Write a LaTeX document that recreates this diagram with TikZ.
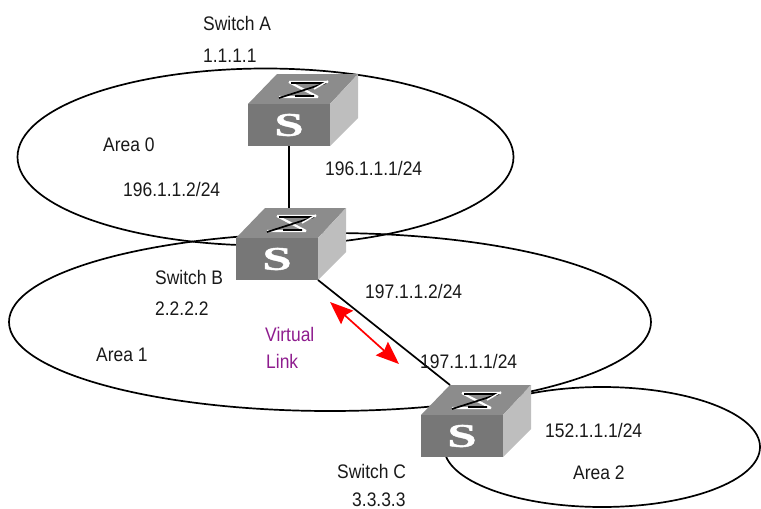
\documentclass[tikz,border=0pt]{standalone}
\usepackage{fontspec}
\setmainfont[FakeStretch=0.89]{Liberation Sans}
\newfontfamily\logofont[UprightFont=* Bold, FakeBold=1.2, FakeStretch=1.6]{Liberation Serif}
\usetikzlibrary{arrows.meta}
\definecolor{frontgray}{HTML}{777777}
\definecolor{topgray}{HTML}{8C8C8C}
\definecolor{sidegray}{HTML}{BEBEBE}
\definecolor{linkpurple}{HTML}{8E1C8E}
\tikzset{
	area/.style = { line width=1.7pt, color=black },
	link/.style = { line width=1.7pt, color=black },
	label/.style = { font=\fontsize{19.6}{19.6}\selectfont, color=black!90, anchor=west, inner sep=0pt, text height=14pt, text depth=0pt },
	virtual/.style = { label, color=linkpurple },
	arrow/.style = { line width=1.7pt, color=red, {Stealth[length=23pt,width=18pt,inset=3pt]}-{Stealth[length=23pt,width=18pt,inset=3pt]} },
	front/.style = { fill=frontgray, anchor=north west, minimum width=82pt, minimum height=42pt, inner sep=0pt, outer sep=0pt, text=white, font=\logofont\fontsize{33}{33}\selectfont },
	switchbox/.pic = {
		\fill[topgray] (0,0) -- (29,-30) -- (110,-30) -- (82,0) -- cycle;
		\fill[sidegray] (82,0) -- (110,-30) -- (110,14) -- (82,42) -- cycle;
		\draw[white, line width=2.2pt] (41,-22) -- (80,-22) (31,-7) -- (70,-7) (41,-22) -- (70,-7);
		\draw[black, line width=1.7pt] (43,-21) -- (78,-21) (78,-21) -- (31,-6) (47,-8) -- (66,-8);
		\draw[white, line width=1.5pt] (80,-23) -- (66,-15);
		\node[front] (-front) at (0,0) {S};
		\coordinate (-back) at (29,-30);
	},
}

\begin{document}
\begin{tikzpicture}[x=1pt, y=-1pt]
\useasboundingbox (0,0) rectangle (761,509);
\clip (0,0) rectangle (761,509);

\draw[area] (265.5,157) ellipse [x radius=248, y radius=88.5];
\draw[area] (330,322) ellipse [x radius=321, y radius=89];
\draw[area] (602,447) ellipse [x radius=158, y radius=60];

\pic (A) at (248,104) {switchbox};
\pic (B) at (236,238) {switchbox};
\pic (C) at (421,415) {switchbox};

\draw[link] (A-front.south) -- (A-front.south |- B-back);
\draw[link] (B-front.south east) -- (C-back);

\coordinate (tipb) at (330,302);
\coordinate (tipc) at (399,364);
\draw[arrow] (tipb) -- (tipc);

\node[label] (namea) at (203,23) {Switch A};
\node[label] (ida) at (203,55) {1.1.1.1};
\node[label] (area0) at (103,144) {Area 0};
\node[label] (ipb0) at (123,189) {196.1.1.2/24};
\node[label] (ipa) at (325,168) {196.1.1.1/24};
\node[label] (nameb) at (155,277) {Switch B};
\node[label] (idb) at (155,308) {2.2.2.2};
\node[label] (ipb1) at (365,291) {197.1.1.2/24};
\node[virtual] (virt) at (265,334) {Virtual};
\node[virtual] (linkname) at (266,361) {Link};
\node[label] (area1) at (96,354) {Area 1};
\node[label] (ipc1) at (420,361) {197.1.1.1/24};
\node[label] (ipc2) at (545,430) {152.1.1.1/24};
\node[label] (area2) at (573,472) {Area 2};
\node[label] (namec) at (337,471) {Switch C};
\node[label] (idc) at (352,499) {3.3.3.3};
\end{tikzpicture}
\end{document}
